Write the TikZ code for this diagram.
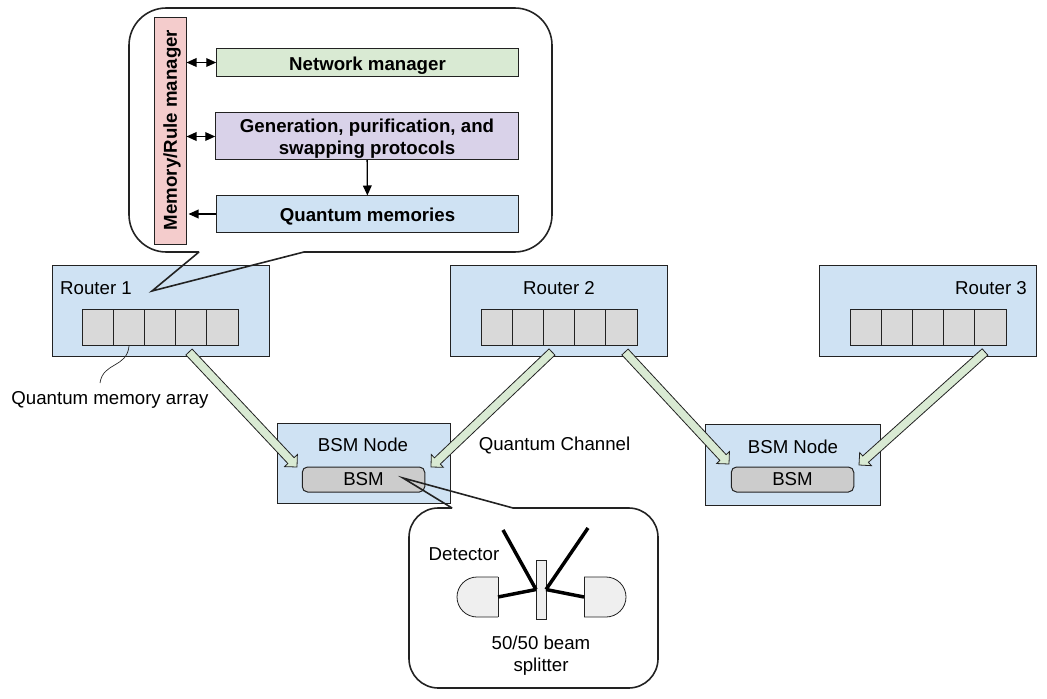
\documentclass[tikz,border=0pt]{standalone}
\usepackage{fontspec}
\setmainfont{Liberation Sans}
\usetikzlibrary{arrows.meta,calc}
\definecolor{linedark}{HTML}{222222}
\definecolor{routerblue}{HTML}{CFE2F3}
\definecolor{chgreen}{HTML}{D9EAD3}
\definecolor{protopurple}{HTML}{D9D2E9}
\definecolor{mgrpink}{HTML}{F4CCCC}
\definecolor{cellgray}{HTML}{D9D9D9}
\definecolor{bsmgray}{HTML}{CCCCCC}
\definecolor{detgray}{HTML}{EFEFEF}
\tikzset{
  size/.style 2 args={minimum width=#1*0.75pt, minimum height=#2*0.75pt},
  block/.style={draw=linedark, line width=.75pt, inner sep=0pt, outer sep=0pt},
  label/.style={inner sep=0pt, align=center, font=\fontsize{14}{16.5}\selectfont},
  boldlabel/.style={label, font=\fontsize{14}{16.5}\selectfont\bfseries},
  bubble/.style={draw=linedark, line width=1.2pt, fill=white},
  tail/.style={draw=linedark, line width=1.2pt, line join=miter},
  arr/.style={line width=1pt, draw=black, >={Stealth[length=7.5pt,width=6.5pt,inset=0pt]}},
  beam/.style={line width=2.6pt, draw=black},
  chan/.style={draw=linedark, fill=chgreen, line width=.6pt, to path={
    ($(\tikztostart)!3.2pt!90:(\tikztotarget)$)
    -- ($(\tikztotarget)!7.33pt!-25.9:(\tikztostart)$)
    -- ($(\tikztotarget)!9.33pt!-45:(\tikztostart)$)
    -- (\tikztotarget)
    -- ($(\tikztotarget)!9.33pt!45:(\tikztostart)$)
    -- ($(\tikztotarget)!7.33pt!25.9:(\tikztostart)$)
    -- ($(\tikztostart)!3.2pt!-90:(\tikztotarget)$) -- cycle}}
}
\begin{document}
\begin{tikzpicture}[x=0.75pt,y=-0.75pt]
  \useasboundingbox (0,0) rectangle (1047,699);
  % routers
  \node[block, fill=routerblue, size={217}{91}] (router1) at (160.5,311) {};
  \node[block, fill=routerblue, size={217.5}{91}] (router2) at (558.75,311) {};
  \node[block, fill=routerblue, size={216.5}{91}] (router3) at (927.75,311) {};
  \node[label] (router1label) at (96,288) {Router 1};
  \node[label] (router2label) at (559,288) {Router 2};
  \node[label] (router3label) at (991,288) {Router 3};
  % memory arrays
  \foreach \r/\xs in {1/82,2/481,3/850}
    \foreach \i in {0,...,4}
      \node[block, fill=cellgray, size={31.2}{36}] (cell\r\i) at (\xs+15.6+\i*31.2,327) {};
  % BSM nodes
  \node[block, fill=routerblue, size={173}{80}] (bsmnode1) at (363.5,463) {};
  \node[block, fill=routerblue, size={175.5}{81}] (bsmnode2) at (793,464.5) {};
  \node[label] (bsmlabel1) at (363,445) {BSM Node};
  \node[label] (bsmlabel2) at (793,447) {BSM Node};
  \node[block, fill=bsmgray, rounded corners=4pt, size={122.5}{25}] (bsm1) at (363.5,479.5) {};
  \node[block, fill=bsmgray, rounded corners=4pt, size={122.5}{25}] (bsm2) at (792.5,479.5) {};
  \node[label] at (bsm1) {BSM};
  \node[label] at (bsm2) {BSM};
  % quantum channels
  \coordinate (r1out) at (189,352);
  \coordinate (r2outa) at (552,352);
  \coordinate (r2outb) at (625,352);
  \coordinate (r3out) at (985,352);
  \coordinate (b1a) at (297,467);
  \coordinate (b1b) at (431,467);
  \coordinate (b2a) at (729,464);
  \coordinate (b2b) at (859,465);
  \draw[chan] (r1out) to (b1a);
  \draw[chan] (r2outa) to (b1b);
  \draw[chan] (r2outb) to (b2a);
  \draw[chan] (r3out) to (b2b);
  \node[label] (chanlabel) at (554.5,445) {Quantum Channel};
  \node[label] (arraylabel) at (110,399.5) {Quantum memory array};
  \coordinate (arraytip) at (129,346);
  \draw[line width=.5pt, draw=linedark] (arraytip) .. controls (127,368) and (103,362) .. (100,383);
  % router callout
  \draw[bubble, rounded corners=28pt] (199,252) -- (129,252) -- (129,8) -- (552,8) -- (552,252) -- (304,252);
  \coordinate (routertip) at (152,291);
  \draw[tail] (199,252) -- (routertip) -- (304,252);
  \node[block, fill=mgrpink, size={32}{226}] (mgr) at (170.5,131) {};
  \node[boldlabel, rotate=90] (mgrlabel) at (172,130) {Memory/Rule manager};
  \node[block, fill=chgreen, size={302.5}{28.5}] (netmgr) at (367.5,62.5) {};
  \node[boldlabel] (netmgrlabel) at (367.5,65.5) {Network manager};
  \node[block, fill=protopurple, size={303.5}{47}] (proto) at (367,136.5) {};
  \node[boldlabel] (protolabel) at (367,139) {Generation, purification, and\\swapping protocols};
  \node[block, fill=routerblue, size={302.5}{37}] (qmem) at (367.5,214) {};
  \node[boldlabel] (qmemlabel) at (367.5,216.5) {Quantum memories};
  \draw[arr, <->] (mgr.east |- netmgr) -- (netmgr);
  \draw[arr, <->] (mgr.east |- proto) -- (proto);
  \draw[arr, ->] (proto) -- (qmem);
  \draw[arr, ->] (qmem) -- ($(mgr.east |- qmem)+(2,0)$);
  % BSM callout
  \draw[bubble, rounded corners=22pt] (452,508) -- (409,508) -- (409,688) -- (658,688) -- (658,508) -- (513,508);
  \coordinate (bsmtip) at (403,478);
  \draw[tail] (452,508) -- (bsmtip) -- (513,508);
  \node[block, fill=detgray, line width=.6pt, size={10}{59}] (bs) at (541,589.5) {};
  \draw[block, fill=detgray, line width=.6pt, rounded corners=15pt] (498,577) -- (457,577) -- (457,617) -- (498,617);
  \draw[block, line width=.6pt] (498,577) -- (498,617);
  \draw[block, fill=detgray, line width=.6pt, rounded corners=15pt] (584,577) -- (626,577) -- (626,617) -- (584,617);
  \draw[block, line width=.6pt] (584,577) -- (584,617);
  \coordinate (detl) at (498,597);
  \coordinate (detr) at (584,597);
  \coordinate (inl) at (503,530);
  \coordinate (inr) at (588,528);
  \draw[beam] (inl) -- (bs.west);
  \draw[beam] (inr) -- (bs.east);
  \draw[beam] (detl) -- (bs.west);
  \draw[beam] (detr) -- (bs.east);
  \node[label] (detlabel) at (464,554.5) {Detector};
  \node[label] (bslabel) at (541,655.5) {50/50 beam\\splitter};
\end{tikzpicture}
\end{document}
